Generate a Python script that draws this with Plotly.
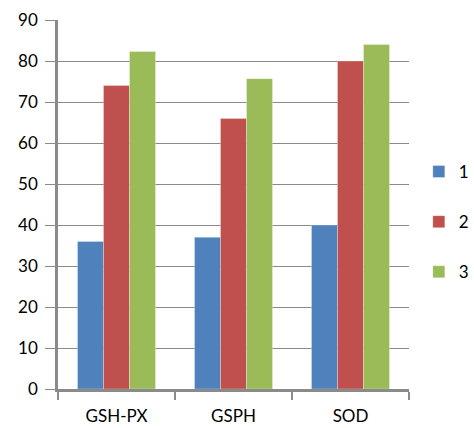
import plotly.graph_objects as go

categories = ["GSH-PX", "GSPH", "SOD"]
series_names = ["1", "2", "3"]
series1 = [36, 37, 40]
series2 = [74, 66, 80]
series3 = [82.3, 75.7, 84]
colors = ["#4F81BD", "#C0504D", "#9BBB59"]
y_ticks = [0, 10, 20, 30, 40, 50, 60, 70, 80, 90]

fig = go.Figure()
for name, vals, col in zip(series_names, [series1, series2, series3], colors):
    fig.add_trace(go.Bar(
        x=categories, y=vals, name=name, legendgroup=name,
        marker=dict(color=col, line=dict(width=0.6, color="rgba(255,255,255,0.5)")),
    ))

grid_col = "#8a8a8a"
fig.update_layout(
    width=474, height=428,
    margin=dict(l=58, r=65, t=20, b=39, autoexpand=False),
    paper_bgcolor="white", plot_bgcolor="white",
    barmode="group", bargap=0.333, bargroupgap=0,
    font=dict(family="Lato, Open Sans, sans-serif", size=17, color="black"),
    legend=dict(x=1.028, xanchor="left", y=0.4526, yanchor="middle",
                tracegroupgap=25, itemwidth=30, font=dict(size=17),
                bgcolor="rgba(0,0,0,0)"),
    showlegend=True,
)
fig.update_xaxes(
    automargin=False,
    showline=True, linecolor=grid_col, linewidth=2.5,
    ticks="outside", tickson="boundaries", ticklen=8, tickwidth=2, tickcolor=grid_col,
    ticklabelstandoff=10, showgrid=False,
)
fig.update_yaxes(
    automargin=False,
    range=[0, 90], tickvals=y_ticks, showline=True, linecolor=grid_col, linewidth=2.5,
    showgrid=True, gridcolor=grid_col, gridwidth=1.3,
    ticks="outside", ticklen=10, tickwidth=1.3, tickcolor=grid_col,
    ticklabelstandoff=4, zeroline=False,
)
fig.write_html(
    "out.html",
    config={"displayModeBar": False},
    post_script="document.body.style.margin='0';document.documentElement.style.overflow='hidden';document.body.style.overflow='hidden';",
)
